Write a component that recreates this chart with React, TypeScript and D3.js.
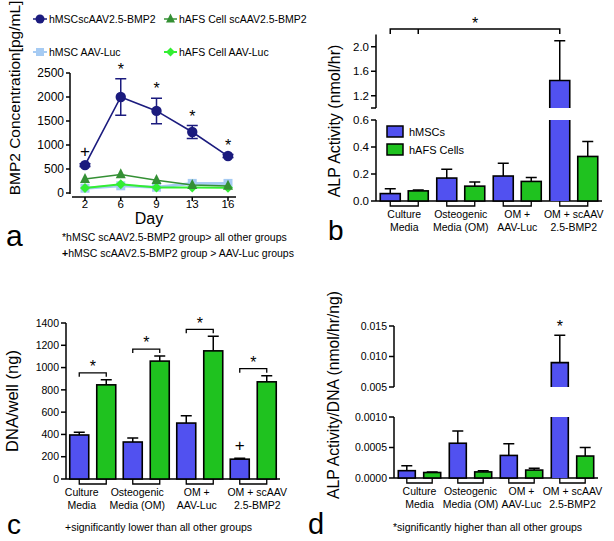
import React from "react";
import * as d3 from "d3";

const FONT = "'Liberation Sans', Arial, Helvetica, sans-serif";
const BLUE = "#5151f0";
const GREEN = "#1fc21f";
const NAVY = "#1b1b7e";
const DKGREEN = "#349034";
const LTBLUE = "#a6cbf3";
const LIME = "#33ee33";

// ---------- Panel a ----------
const days = ["2", "6", "9", "13", "16"];
const hmscBmp2 = [580, 2000, 1710, 1270, 770];
const hmscBmp2Sd = [30, 380, 265, 135, 30];
const hafsBmp2 = [290, 385, 265, 165, 145];
const hmscLuc = [100, 150, 120, 200, 200];
const hafsLuc = [105, 180, 115, 115, 110];
const aTicks = [0, 500, 1000, 1500, 2000, 2500];
const aMarks = ["+", "*", "*", "*", "*"];

// ---------- shared categories ----------
const groups = [
  ["Culture", "Media"],
  ["Osteogenic", "Media (OM)"],
  ["OM +", "AAV-Luc"],
  ["OM + scAAV", "2.5-BMP2"],
];

// ---------- Panel b ----------
const bMsc = [0.055, 0.17, 0.185, 1.45];
const bMscSd = [0.035, 0.065, 0.095, 0.65];
const bAfs = [0.075, 0.11, 0.145, 0.33];
const bAfsSd = [0.006, 0.03, 0.03, 0.11];
const bTicksLow = [0, 0.2, 0.4, 0.6];
const bTicksHigh = [1.0, 1.2, 1.6, 2.0];

// ---------- Panel c ----------
const cMsc = [395, 332, 502, 178];
const cMscSd = [25, 35, 65, 8];
const cAfs = [845, 1058, 1150, 872];
const cAfsSd = [45, 45, 130, 55];
const cTicks = [0, 200, 400, 600, 800, 1000, 1200, 1400];

// ---------- Panel d ----------
const dMsc = [0.00012, 0.00057, 0.00037, 0.009];
const dMscSd = [0.00008, 0.0002, 0.00019, 0.0045];
const dAfs = [0.00009, 0.0001, 0.00013, 0.00036];
const dAfsSd = [0.00001, 0.00002, 0.00003, 0.00014];
const dTicksLow = [0, 0.0005, 0.001];
const dTicksHigh = [0.005, 0.01, 0.015];

function Star({ x, y, size = 16 }) {
  return (
    <text x={x} y={y + size * 0.58} textAnchor="middle" fontSize={size} fontFamily={FONT}>
      *
    </text>
  );
}
function Plus({ x, y, size = 16 }) {
  return (
    <text x={x} y={y + size * 0.36} textAnchor="middle" fontSize={size} fontFamily={FONT}>
      +
    </text>
  );
}

function BarPanel(p) {
  const keys = p.groups.map((g) => g.join(" "));
  const x = d3.scaleBand().domain(keys).range(p.xRange);
  const low = d3.scaleLinear().domain(p.low.domain).range(p.low.range);
  const high = p.high ? d3.scaleLinear().domain(p.high.domain).range(p.high.range) : null;
  const lowMax = p.low.domain[1];
  const yOf = (v) => (high && v > lowMax ? high(v) : low(v));
  const y0 = low(0);
  const ax = p.xRange[0];
  const center = (i) => x(keys[i]) + x.bandwidth() / 2;
  const series = [
    { vals: p.msc, sd: p.mscSd, color: BLUE, dx: -p.off },
    { vals: p.afs, sd: p.afsSd, color: GREEN, dx: p.off },
  ];
  const w = p.barW;
  const els = [];
  series.forEach((s, si) => {
    s.vals.forEach((v, i) => {
      const cx = center(i) + s.dx;
      const bx = cx - w / 2;
      const top = yOf(v);
      const et = yOf(v + s.sd[i]);
      els.push(
        <path
          key={`e${si}${i}`}
          d={`M${cx},${top}V${et}M${cx - 5.5},${et}H${cx + 5.5}`}
          stroke="#000"
          strokeWidth={1.5}
          fill="none"
        />
      );
      if (!high || v <= lowMax) {
        els.push(
          <rect key={`b${si}${i}`} x={bx} y={top} width={w} height={y0 - top} fill={s.color} stroke="#000" strokeWidth={1.6} />
        );
      } else {
        const lt = low(lowMax);
        const hb = high(p.high.domain[0]);
        els.push(
          <g key={`b${si}${i}`}>
            <rect x={bx} y={lt} width={w} height={y0 - lt} fill={s.color} />
            <rect x={bx} y={top} width={w} height={hb - top} fill={s.color} />
            <path
              d={`M${bx},${y0}V${lt}M${bx + w},${y0}V${lt}M${bx},${hb}V${top}H${bx + w}V${hb}`}
              stroke="#000"
              strokeWidth={1.6}
              fill="none"
            />
          </g>
        );
      }
    });
  });

  const axisSeg = (sc, seg, k) => (
    <g key={k}>
      <line x1={ax} x2={ax} y1={sc.range()[0]} y2={sc.range()[1]} stroke="#000" strokeWidth={1.5} />
      {seg.ticks.map((t) => (
        <g key={t}>
          <line x1={ax - 5} x2={ax} y1={sc(t)} y2={sc(t)} stroke="#000" strokeWidth={1.5} />
          <text x={ax - 7} y={sc(t) + p.tickFont * 0.36} textAnchor="end" fontSize={p.tickFont} fontFamily={FONT}>
            {seg.fmt(t)}
          </text>
        </g>
      ))}
    </g>
  );

  return (
    <g>
      {axisSeg(low, p.low, "low")}
      {high && axisSeg(high, p.high, "high")}
      <line x1={ax} x2={p.xRange[1]} y1={y0} y2={y0} stroke="#000" strokeWidth={1.6} />
      {keys.map((k, i) => {
        const a = center(i) - p.off;
        const b = center(i) + p.off;
        return (
          <path key={k} d={`M${a},${y0}V${y0 + 5}H${b}V${y0}`} stroke="#000" strokeWidth={1.3} fill="none" />
        );
      })}
      {els}
      {p.groups.map((g, i) => (
        <text key={i} textAnchor="middle" fontSize={10.5} fontFamily={FONT}>
          <tspan x={center(i) + (p.labelDx ? p.labelDx[i] : 0)} y={y0 + 17}>
            {g[0]}
          </tspan>
          <tspan x={center(i) + (p.labelDx ? p.labelDx[i] : 0)} y={y0 + 30}>
            {g[1]}
          </tspan>
        </text>
      ))}
      {p.extra && p.extra({ center, yOf, off: p.off })}
    </g>
  );
}

function PanelA() {
  const x = d3.scalePoint().domain(days).range([85, 228]);
  const y = d3.scaleLinear().domain([0, 2500]).range([193, 73]);
  const line = d3
    .line()
    .x((d) => x(d[0]))
    .y((d) => y(d[1]));
  const pts = (vals) => days.map((d, i) => [d, vals[i]]);
  const tri = (cx, cy, s) => `M${cx},${cy - s * 0.62}L${cx + s / 2},${cy + s * 0.38}L${cx - s / 2},${cy + s * 0.38}Z`;
  const dia = (cx, cy, s) => `M${cx},${cy - s / 2}L${cx + s / 2},${cy}L${cx},${cy + s / 2}L${cx - s / 2},${cy}Z`;
  return (
    <g>
      {/* legend */}
      <g fontFamily={FONT} fontSize={10.5}>
        <line x1={33} x2={47} y1={19} y2={19} stroke={NAVY} strokeWidth={1.5} />
        <circle cx={40} cy={19} r={4.5} fill={NAVY} />
        <text x={49} y={23}>hMSCscAAV2.5-BMP2</text>
        <line x1={164} x2={177} y1={19} y2={19} stroke={DKGREEN} strokeWidth={1.5} />
        <path d={tri(170.5, 19, 9)} fill={DKGREEN} />
        <text x={179} y={23}>hAFS Cell scAAV2.5-BMP2</text>
        <line x1={33} x2={47} y1={52} y2={52} stroke={LTBLUE} strokeWidth={2} />
        <rect x={36} y={48} width={8} height={8} fill={LTBLUE} />
        <text x={49} y={56}>hMSC AAV-Luc</text>
        <line x1={164} x2={177} y1={52} y2={52} stroke={LIME} strokeWidth={2} />
        <path d={dia(170.5, 52, 9)} fill={LIME} />
        <text x={179} y={56}>hAFS Cell AAV-Luc</text>
      </g>
      {/* axes */}
      <line x1={70} x2={70} y1={73} y2={194} stroke="#000" strokeWidth={1.5} />
      {aTicks.map((t) => (
        <g key={t}>
          <line x1={66} x2={70} y1={y(t)} y2={y(t)} stroke="#000" strokeWidth={1.5} />
          <text x={64} y={y(t) + 4.3} textAnchor="end" fontSize={12} fontFamily={FONT}>
            {t}
          </text>
        </g>
      ))}
      <line x1={72} x2={236} y1={197} y2={197} stroke="#000" strokeWidth={1.5} />
      {days.map((d) => (
        <g key={d}>
          <line x1={x(d)} x2={x(d)} y1={197} y2={201} stroke="#000" strokeWidth={1.5} />
          <text x={x(d)} y={207.5} textAnchor="middle" fontSize={11.5} fontFamily={FONT}>
            {d}
          </text>
        </g>
      ))}
      <text x={149} y={224} textAnchor="middle" fontSize={16} fontFamily={FONT}>
        Day
      </text>
      <text transform="translate(20,98) rotate(-90)" textAnchor="middle" fontSize={15.5} fontFamily={FONT}>
        BMP2 Concentration[pg/mL]
      </text>
      {/* series */}
      <path d={line(pts(hmscLuc))} stroke={LTBLUE} strokeWidth={3} fill="none" />
      {days.map((d, i) => (
        <rect key={d} x={x(d) - 4.5} y={y(hmscLuc[i]) - 4.5} width={9} height={9} fill={LTBLUE} />
      ))}
      <path d={line(pts(hafsLuc))} stroke={LIME} strokeWidth={2} fill="none" />
      {days.map((d, i) => (
        <path key={d} d={dia(x(d), y(hafsLuc[i]), 10)} fill={LIME} />
      ))}
      <path d={line(pts(hafsBmp2))} stroke={DKGREEN} strokeWidth={1.5} fill="none" />
      {days.map((d, i) => (
        <path key={d} d={tri(x(d), y(hafsBmp2[i]), 10)} fill={DKGREEN} />
      ))}
      {days.map((d, i) => {
        const t = y(hmscBmp2[i] + hmscBmp2Sd[i]);
        const b = y(hmscBmp2[i] - hmscBmp2Sd[i]);
        return (
          <path
            key={d}
            d={`M${x(d)},${t}V${b}M${x(d) - 5.5},${t}H${x(d) + 5.5}M${x(d) - 5.5},${b}H${x(d) + 5.5}`}
            stroke={NAVY}
            strokeWidth={1.5}
            fill="none"
          />
        );
      })}
      <path d={line(pts(hmscBmp2))} stroke={NAVY} strokeWidth={1.6} fill="none" />
      {days.map((d, i) => (
        <circle key={d} cx={x(d)} cy={y(hmscBmp2[i])} r={5.2} fill={NAVY} />
      ))}
      {days.map((d, i) => {
        const cy = y(hmscBmp2[i] + hmscBmp2Sd[i]) - 13;
        return aMarks[i] === "*" ? <Star key={d} x={x(d)} y={cy} /> : <Plus key={d} x={x(d)} y={cy} size={17} />;
      })}
      <text x={6} y={246} fontSize={30} fontFamily={FONT}>
        a
      </text>
      <text x={62} y={241} fontSize={10.5} fontFamily={FONT}>
        *hMSC scAAV2.5-BMP2 group&gt; all other groups
      </text>
      <text x={62} y={257} fontSize={10.5} fontFamily={FONT}>
        <tspan fontWeight="bold">+</tspan>hMSC scAAV2.5-BMP2 group &gt; AAV-Luc groups
      </text>
    </g>
  );
}

export default function App() {
  const f1 = (v) => v.toFixed(1);
  return (
    <svg width={614} height={541} style={{ position: "absolute", left: 0, top: 0, background: "#fff" }}>
      <rect width={614} height={541} fill="#fff" />
      <PanelA />

      {/* Panel b */}
      <BarPanel
        groups={groups}
        msc={bMsc}
        mscSd={bMscSd}
        afs={bAfs}
        afsSd={bAfsSd}
        xRange={[376, 602]}
        barW={20}
        off={14}
        tickFont={11.5}
        low={{ domain: [0, 0.6], range: [201, 120], ticks: bTicksLow, fmt: f1 }}
        high={{ domain: [1.0, 2.2], range: [108, 34.5], ticks: bTicksHigh, fmt: (v) => (v === 1 ? "" : f1(v)) }}
        extra={({ center, off }) => {
          const a = center(0) - off;
          const b = center(0) + off;
          const c = center(3) - off;
          return (
            <g>
              <path d={`M${a},34V29H${c}V34M${b},29V34`} stroke="#000" strokeWidth={1.5} fill="none" />
              <Star x={(a + c) / 2} y={20} />
            </g>
          );
        }}
      />
      <g fontFamily={FONT} fontSize={11}>
        <rect x={387} y={126} width={16} height={11} fill={BLUE} stroke="#000" strokeWidth={1.5} />
        <text x={409} y={135.5}>hMSCs</text>
        <rect x={387} y={144} width={16} height={11} fill={GREEN} stroke="#000" strokeWidth={1.5} />
        <text x={409} y={153.5}>hAFS Cells</text>
      </g>
      <text transform="translate(340,121) rotate(-90)" textAnchor="middle" fontSize={16} fontFamily={FONT}>
        ALP Activity (nmol/hr)
      </text>
      <text x={328} y={240} fontSize={28} fontFamily={FONT}>
        b
      </text>

      {/* Panel c */}
      <BarPanel
        groups={groups}
        msc={cMsc}
        mscSd={cMscSd}
        afs={cAfs}
        afsSd={cAfsSd}
        xRange={[66, 280]}
        barW={19}
        off={13.5}
        tickFont={10.5}
        labelDx={[-11, -9, -3, 4]}
        low={{ domain: [0, 1400], range: [479, 323], ticks: cTicks, fmt: (v) => String(v) }}
        extra={({ center, yOf, off }) => (
          <g>
            {groups.map((g, i) => {
              const by = yOf(cAfs[i] + cAfsSd[i]) - 7;
              const a = center(i) - off;
              const b = center(i) + off;
              return (
                <g key={i}>
                  <path d={`M${a},${by + 4}V${by}H${b}V${by + 4}`} stroke="#000" strokeWidth={1.3} fill="none" />
                  <Star x={center(i)} y={by - 10} />
                </g>
              );
            })}
            <Plus x={center(3) - off} y={yOf(cMsc[3] + cMscSd[3]) - 13} size={17} />
          </g>
        )}
      />
      <text transform="translate(18,401) rotate(-90)" textAnchor="middle" fontSize={16.5} fontFamily={FONT}>
        DNA/well (ng)
      </text>
      <text x={7} y={534} fontSize={28} fontFamily={FONT}>
        c
      </text>
      <text x={65} y={531} fontSize={10.5} fontFamily={FONT}>
        +significantly lower than all other groups
      </text>

      {/* Panel d */}
      <BarPanel
        groups={groups}
        msc={dMsc}
        mscSd={dMscSd}
        afs={dAfs}
        afsSd={dAfsSd}
        xRange={[394, 598]}
        barW={17}
        off={12.7}
        tickFont={10.5}
        low={{ domain: [0, 0.001], range: [478, 417], ticks: dTicksLow, fmt: (v) => v.toFixed(4) }}
        high={{ domain: [0.005, 0.015], range: [387, 326], ticks: dTicksHigh, fmt: (v) => v.toFixed(3) }}
        extra={({ center, yOf, off }) => <Star x={center(3) - off} y={yOf(dMsc[3] + dMscSd[3]) - 12} />}
      />
      <text transform="translate(339,395) rotate(-90)" textAnchor="middle" fontSize={15.7} fontFamily={FONT}>
        ALP Activity/DNA (nmol/hr/ng)
      </text>
      <text x={308} y={534} fontSize={29} fontFamily={FONT}>
        d
      </text>
      <text x={393} y={531} fontSize={10.5} fontFamily={FONT}>
        *significantly higher than all other groups
      </text>
    </svg>
  );
}
